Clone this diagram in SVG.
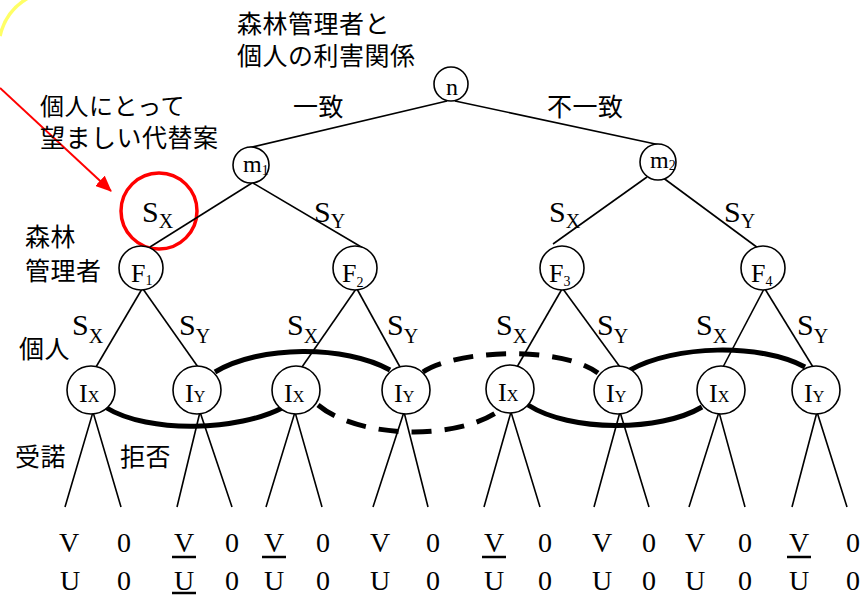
<svg xmlns="http://www.w3.org/2000/svg" width="866" height="595" viewBox="0 0 866 595">
<style>
.edge{stroke:#000;stroke-width:1.6;fill:none}
.node{fill:#fff;stroke:#000;stroke-width:1.6}
.tm{font-family:"Liberation Serif","Times New Roman",serif;fill:#000}
.jp{font-family:"Noto Sans CJK JP","Noto Sans",sans-serif;font-size:25px;fill:#000;letter-spacing:0.5px}
.link{stroke:#000;stroke-width:5;fill:none}
.dash{stroke-dasharray:20 13}
.ul{stroke:#000;stroke-width:2.5}
</style>
<defs>
<marker id="redhead" markerWidth="16" markerHeight="14" refX="15" refY="7" orient="auto" markerUnits="userSpaceOnUse" viewBox="0 0 16 14">
<path d="M0,0 L16,7 L0,14 z" fill="#ff0000"/>
</marker>
</defs>
<rect width="866" height="595" fill="#fff"/>

<path d="M28,-2 A59,59 0 0 0 0,36" fill="none" stroke="#ffff66" stroke-width="3.5"/>
<g id="highlight">
<line x1="0" y1="88" x2="111" y2="191" stroke="#ff0000" stroke-width="2" marker-end="url(#redhead)"/>
<circle cx="159" cy="211" r="38" fill="none" stroke="#ff0000" stroke-width="3.5"/>
</g>

<g id="connectors">
<line class="edge" x1="447" y1="101" x2="248" y2="148"/>
<line class="edge" x1="455" y1="101" x2="660" y2="145"/>
<line class="edge" x1="252" y1="183" x2="150" y2="247"/>
<line class="edge" x1="253" y1="183" x2="363" y2="248"/>
<line class="edge" x1="647" y1="177" x2="553" y2="244"/>
<line class="edge" x1="662" y1="177" x2="758" y2="248"/>
<line class="edge" x1="142" y1="289" x2="96" y2="367"/>
<line class="edge" x1="143" y1="289" x2="198" y2="367"/>
<line class="edge" x1="356" y1="289" x2="302" y2="367"/>
<line class="edge" x1="357" y1="289" x2="400" y2="367"/>
<line class="edge" x1="562" y1="289" x2="517" y2="367"/>
<line class="edge" x1="563" y1="289" x2="620" y2="367"/>
<line class="edge" x1="764" y1="289" x2="723" y2="367"/>
<line class="edge" x1="765" y1="289" x2="813" y2="367"/>
<polyline class="edge" points="65,507 93,412 121,507"/>
<polyline class="edge" points="177,507 200,412 232,507"/>
<polyline class="edge" points="266,507 295,412 322,507"/>
<polyline class="edge" points="373,507 404,412 428,507"/>
<polyline class="edge" points="484,507 511,412 540,507"/>
<polyline class="edge" points="594,507 620,412 649,507"/>
<polyline class="edge" points="689,507 719,412 745,507"/>
<polyline class="edge" points="792,507 817,412 847,507"/>
<path class="link" d="M105,407 C150,435 240,430 282,408"/>
<path class="link" d="M215,372 C260,345 345,345 390,370"/>
<path class="link dash" d="M318,405 C360,440 460,440 500,410"/>
<path class="link dash" d="M423,372 C455,350 560,345 598,373"/>
<path class="link" d="M528,405 C570,432 660,432 702,407"/>
<path class="link" d="M630,370 C675,345 760,343 805,367"/>
</g>

<g id="n"><circle class="node" cx="451" cy="84" r="17"/><text class="tm" x="446" y="95" font-size="24">n</text></g>
<g id="m1"><circle class="node" cx="251" cy="165" r="18"/><text class="tm" x="243" y="172" font-size="24">m<tspan font-size="14" dy="3">1</tspan></text></g>
<g id="m2"><circle class="node" cx="658" cy="162" r="18"/><text class="tm" x="650" y="168" font-size="24">m<tspan font-size="14" dy="2">2</tspan></text></g>

<g id="F1"><circle class="node" cx="141" cy="268" r="22"/><text class="tm" x="131" y="282" font-size="26">F<tspan font-size="14" dy="3">1</tspan></text></g>
<g id="F2"><circle class="node" cx="355" cy="268" r="22"/><text class="tm" x="342" y="282" font-size="26">F<tspan font-size="14" dy="5">2</tspan></text></g>
<g id="F3"><circle class="node" cx="562" cy="268" r="22"/><text class="tm" x="549" y="282" font-size="26">F<tspan font-size="14" dy="4">3</tspan></text></g>
<g id="F4"><circle class="node" cx="763" cy="268" r="22"/><text class="tm" x="751" y="282" font-size="26">F<tspan font-size="14" dy="4">4</tspan></text></g>

<g id="IX1"><circle class="node" cx="91" cy="390" r="24"/><text class="tm" x="79" y="402" font-size="26">I<tspan font-size="16">X</tspan></text></g>
<g id="IY1"><circle class="node" cx="197" cy="390" r="24"/><text class="tm" x="185" y="402" font-size="26">I<tspan font-size="16">Y</tspan></text></g>
<g id="IX2"><circle class="node" cx="296" cy="390" r="24"/><text class="tm" x="284" y="402" font-size="26">I<tspan font-size="16">X</tspan></text></g>
<g id="IY2"><circle class="node" cx="406" cy="390" r="24"/><text class="tm" x="394" y="402" font-size="26">I<tspan font-size="16">Y</tspan></text></g>
<g id="IX3"><circle class="node" cx="510" cy="389" r="24"/><text class="tm" x="498" y="401" font-size="26">I<tspan font-size="16">X</tspan></text></g>
<g id="IY3"><circle class="node" cx="618" cy="390" r="24"/><text class="tm" x="606" y="402" font-size="26">I<tspan font-size="16">Y</tspan></text></g>
<g id="IX4"><circle class="node" cx="721" cy="390" r="24"/><text class="tm" x="709" y="402" font-size="26">I<tspan font-size="16">X</tspan></text></g>
<g id="IY4"><circle class="node" cx="816" cy="390" r="24"/><text class="tm" x="804" y="402" font-size="26">I<tspan font-size="16">Y</tspan></text></g>

<g id="edge-labels" class="tm">
<text x="142" y="222" font-size="30">S<tspan font-size="20" dy="6">X</tspan></text>
<text x="314" y="222" font-size="30">S<tspan font-size="20" dy="6">Y</tspan></text>
<text x="549" y="222" font-size="30">S<tspan font-size="20" dy="6">X</tspan></text>
<text x="724" y="222" font-size="30">S<tspan font-size="20" dy="6">Y</tspan></text>
<text x="72" y="335" font-size="30">S<tspan font-size="20" dy="8">X</tspan></text>
<text x="179" y="335" font-size="30">S<tspan font-size="20" dy="8">Y</tspan></text>
<text x="287" y="335" font-size="30">S<tspan font-size="20" dy="8">X</tspan></text>
<text x="387" y="335" font-size="30">S<tspan font-size="20" dy="8">Y</tspan></text>
<text x="496" y="335" font-size="30">S<tspan font-size="20" dy="8">X</tspan></text>
<text x="597" y="335" font-size="30">S<tspan font-size="20" dy="8">Y</tspan></text>
<text x="696" y="335" font-size="30">S<tspan font-size="20" dy="8">X</tspan></text>
<text x="797" y="335" font-size="30">S<tspan font-size="20" dy="8">Y</tspan></text>
</g>

<g id="payoffs" class="tm" font-size="28" text-anchor="middle">
<text x="69" y="552">V</text><text x="124" y="552">0</text>
<text x="184" y="552">V</text><text x="232" y="552">0</text>
<text x="274" y="552">V</text><text x="323" y="552">0</text>
<text x="380" y="552">V</text><text x="433" y="552">0</text>
<text x="494" y="552">V</text><text x="545" y="552">0</text>
<text x="602" y="552">V</text><text x="649" y="552">0</text>
<text x="695" y="552">V</text><text x="745" y="552">0</text>
<text x="799" y="552">V</text><text x="853" y="552">0</text>
<text x="70" y="590">U</text><text x="124" y="590">0</text>
<text x="184" y="590">U</text><text x="232" y="590">0</text>
<text x="274" y="590">U</text><text x="323" y="590">0</text>
<text x="380" y="590">U</text><text x="433" y="590">0</text>
<text x="494" y="590">U</text><text x="545" y="590">0</text>
<text x="602" y="590">U</text><text x="649" y="590">0</text>
<text x="695" y="590">U</text><text x="745" y="590">0</text>
<text x="799" y="590">U</text><text x="853" y="590">0</text>
</g>
<g id="underlines">
<line class="ul" x1="172" y1="557" x2="196" y2="557"/>
<line class="ul" x1="172" y1="593" x2="196" y2="593"/>
<line class="ul" x1="262" y1="557" x2="286" y2="557"/>
<line class="ul" x1="482" y1="557" x2="506" y2="557"/>
<line class="ul" x1="787" y1="557" x2="811" y2="557"/>
</g>

<g id="jp-labels" class="jp">
<text x="237" y="33">森林管理者と</text>
<text x="237" y="65">個人の利害関係</text>
<text x="293" y="116">一致</text>
<text x="547" y="116">不一致</text>
<text x="40" y="115" font-size="24">個人にとって</text>
<text x="40" y="147">望ましい代替案</text>
<text x="25" y="246">森林</text>
<text x="25" y="280">管理者</text>
<text x="19" y="358">個人</text>
<text x="15" y="466">受諾</text>
<text x="120" y="466">拒否</text>
</g>
</svg>
